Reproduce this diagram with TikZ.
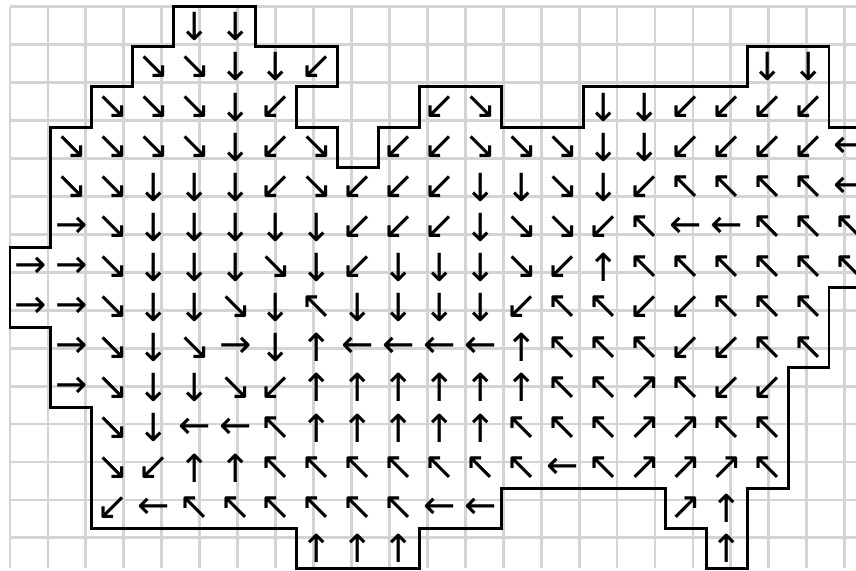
\documentclass[tikz,border=0pt]{standalone}
\usepackage{fontspec}
\newfontfamily\arrowfont{DejaVu Sans}
\usepackage{tikz}

\begin{document}
\begin{tikzpicture}[x=30.71pt, y=-30.08pt,
  cell/.style={inner sep=0pt, font=\arrowfont\fontsize{29}{29}\selectfont},
  gridline/.style={draw=black!17, line width=2.1pt},
  rim/.style={draw=black, line width=2.2pt, line join=miter}]
\useasboundingbox (-0.244,-0.167) rectangle (20.659,14.047);
\draw[gridline] (0,0) grid (21,14);
\foreach \r/\cells in {
  0/{4/↓,5/↓},
  1/{3/↘,4/↘,5/↓,6/↓,7/↙,18/↓,19/↓},
  2/{2/↘,3/↘,4/↘,5/↓,6/↙,10/↙,11/↘,14/↓,15/↓,16/↙,17/↙,18/↙,19/↙},
  3/{1/↘,2/↘,3/↘,4/↘,5/↓,6/↙,7/↘,9/↙,10/↙,11/↘,12/↘,13/↘,14/↓,15/↓,16/↙,17/↙,18/↙,19/↙,20/←},
  4/{1/↘,2/↘,3/↓,4/↓,5/↓,6/↙,7/↘,8/↙,9/↙,10/↙,11/↓,12/↓,13/↘,14/↓,15/↙,16/↖,17/↖,18/↖,19/↖,20/←},
  5/{1/→,2/↘,3/↓,4/↓,5/↓,6/↓,7/↓,8/↙,9/↙,10/↙,11/↓,12/↘,13/↘,14/↙,15/↖,16/←,17/←,18/↖,19/↖,20/↖},
  6/{0/→,1/→,2/↘,3/↓,4/↓,5/↓,6/↘,7/↓,8/↙,9/↓,10/↓,11/↓,12/↘,13/↙,14/↑,15/↖,16/↖,17/↖,18/↖,19/↖,20/↖},
  7/{0/→,1/→,2/↘,3/↓,4/↓,5/↘,6/↓,7/↖,8/↓,9/↓,10/↓,11/↓,12/↙,13/↖,14/↖,15/↙,16/↙,17/↖,18/↖,19/↖},
  8/{1/→,2/↘,3/↓,4/↘,5/→,6/↓,7/↑,8/←,9/←,10/←,11/←,12/↑,13/↖,14/↖,15/↖,16/↙,17/↙,18/↖,19/↖},
  9/{1/→,2/↘,3/↓,4/↓,5/↘,6/↙,7/↑,8/↑,9/↑,10/↑,11/↑,12/↑,13/↖,14/↖,15/↗,16/↖,17/↙,18/↙},
  10/{2/↘,3/↓,4/←,5/←,6/↖,7/↑,8/↑,9/↑,10/↑,11/↑,12/↖,13/↖,14/↖,15/↗,16/↗,17/↖,18/↖},
  11/{2/↘,3/↙,4/↑,5/↑,6/↖,7/↖,8/↖,9/↖,10/↖,11/↖,12/↖,13/←,14/↖,15/↗,16/↗,17/↗,18/↖},
  12/{2/↙,3/←,4/↖,5/↖,6/↖,7/↖,8/↖,9/↖,10/←,11/←,16/↗,17/↑},
  13/{7/↑,8/↑,9/↑,17/↑}}
  \foreach \c/\a in \cells
    \node[cell] (c\r-\c) at (\c+0.5,\r+0.5) {\a};
\draw[rim] (4,0) -- (6,0) -- (6,1) -- (8,1) -- (8,2) -- (7,2) -- (7,3) -- (8,3)
  -- (8,4) -- (9,4) -- (9,3) -- (10,3) -- (10,2) -- (12,2) -- (12,3) -- (14,3)
  -- (14,2) -- (18,2) -- (18,1) -- (20,1) -- (20,3) -- (21,3) -- (21,7) -- (20,7)
  -- (20,9) -- (19,9) -- (19,12) -- (18,12) -- (18,14) -- (17,14) -- (17,13)
  -- (16,13) -- (16,12) -- (12,12) -- (12,13) -- (10,13) -- (10,14) -- (7,14)
  -- (7,13) -- (2,13) -- (2,10) -- (1,10) -- (1,8) -- (0,8) -- (0,6) -- (1,6)
  -- (1,3) -- (2,3) -- (2,2) -- (3,2) -- (3,1) -- (4,1) -- cycle;
\end{tikzpicture}
\end{document}
